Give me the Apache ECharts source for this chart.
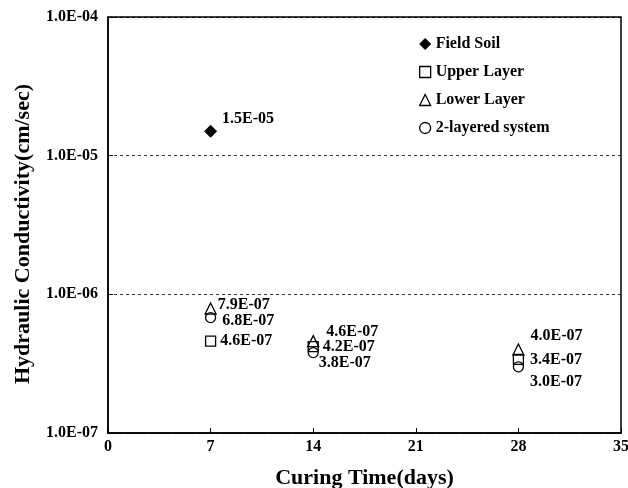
<!DOCTYPE html>
<html>
<head>
<meta charset="utf-8">
<script src="https://cdn.jsdelivr.net/npm/echarts@6/dist/echarts.min.js"></script>
<style>html,body{margin:0;padding:0;background:#fff;}#c{width:628px;height:488px;}</style>
</head>
<body>
<div id="c"></div>
<script>
var days = [7, 14, 28];
var fieldSoilDays = [7];
var fieldSoil = [1.5e-5];
var upperLayer = [4.6e-7, 4.2e-7, 3.4e-7];
var lowerLayer = [7.9e-7, 4.6e-7, 4.0e-7];
var twoLayered = [6.8e-7, 3.8e-7, 3.0e-7];
var xTicks = [0, 7, 14, 21, 28, 35];
var yTicks = [1e-7, 1e-6, 1e-5, 1e-4];

// label offsets (style only)
var offField = [[0, -12]];
var offUpper = [[-1, 0], [-1, 0], [1, 1]];
var offLower = [[-4, -4], [2, -9], [1, -14]];
var offTwo = [[1, 3], [-5, 10], [1, 15]];

var FONT = '"Liberation Serif", "Times New Roman", serif';

function fmt(v) {
  var s = v.toExponential(1).toUpperCase();
  return s.replace(/E([+-])(\d)$/, 'E$10$2');
}

function pts(xs, ys, offs) {
  return ys.map(function (y, i) {
    return {
      value: [xs[i], y],
      label: { offset: offs[i] }
    };
  });
}

function labelCfg() {
  return {
    show: true,
    position: 'right',
    distance: 5,
    fontFamily: FONT,
    fontWeight: 'bold',
    fontSize: 16,
    color: '#000',
    formatter: function (p) { return fmt(p.value[1]); }
  };
}

var chart = echarts.init(document.getElementById('c'));
chart.setOption({
  animation: false,
  backgroundColor: '#fff',
  grid: {
    left: 108, right: 7, top: 17, bottom: 55,
    outerBoundsMode: 'none', containLabel: false,
    show: true, borderColor: '#000', borderWidth: 1.5, backgroundColor: 'transparent'
  },
  legend: {
    orient: 'vertical',
    left: 414,
    top: 31,
    itemWidth: 11,
    itemHeight: 11,
    itemGap: 12,
    textStyle: { fontFamily: FONT, fontWeight: 'bold', fontSize: 16, color: '#000' },
    data: [
      { name: 'Field Soil', icon: 'diamond', itemStyle: { color: '#000', borderColor: '#000', borderWidth: 1 } },
      { name: 'Upper Layer', icon: 'rect', itemStyle: { color: '#fff', borderColor: '#000', borderWidth: 1.3 } },
      { name: 'Lower Layer', icon: 'triangle', itemStyle: { color: '#fff', borderColor: '#000', borderWidth: 1.3 } },
      { name: '2-layered system', icon: 'circle', itemStyle: { color: '#fff', borderColor: '#000', borderWidth: 1.3 } }
    ]
  },
  xAxis: {
    type: 'value',
    min: xTicks[0],
    max: xTicks[xTicks.length - 1],
    interval: 7,
    name: 'Curing Time(days)',
    nameLocation: 'middle',
    nameGap: 34,
    nameTextStyle: { fontFamily: FONT, fontWeight: 'bold', fontSize: 22, color: '#000' },
    axisLine: { lineStyle: { color: '#000', width: 1.5 } },
    axisTick: { show: true, inside: true, length: 5, lineStyle: { color: '#000', width: 1 } },
    axisLabel: { fontFamily: FONT, fontWeight: 'bold', fontSize: 16, color: '#000', margin: 6 },
    splitLine: { show: false }
  },
  yAxis: {
    type: 'log',
    logBase: 10,
    min: yTicks[0],
    max: yTicks[yTicks.length - 1],
    name: 'Hydraulic Conductivity(cm/sec)',
    nameLocation: 'middle',
    nameGap: 74,
    nameTextStyle: { fontFamily: FONT, fontWeight: 'bold', fontSize: 22, color: '#000', padding: [0, 18, 0, 0] },
    axisLine: { show: true, lineStyle: { color: '#000', width: 1.5 } },
    axisTick: { show: true, inside: true, length: 5, lineStyle: { color: '#000', width: 1 } },
    minorTick: { show: false },
    axisLabel: {
      fontFamily: FONT, fontWeight: 'bold', fontSize: 16, color: '#000', margin: 10,
      formatter: function (v) { return fmt(v); }
    },
    splitLine: { show: true, lineStyle: { color: '#000', type: [3, 3], width: 0.8 } }
  },
  series: [
    {
      name: 'Field Soil', type: 'scatter', symbol: 'diamond', symbolSize: 12,
      itemStyle: { color: '#000', borderColor: '#000', borderWidth: 1, opacity: 1 },
      label: labelCfg(),
      data: pts(fieldSoilDays, fieldSoil, offField)
    },
    {
      name: 'Upper Layer', type: 'scatter', symbol: 'rect', symbolSize: 10,
      itemStyle: { color: '#fff', borderColor: '#000', borderWidth: 1.3, opacity: 1 },
      label: labelCfg(),
      data: pts(days, upperLayer, offUpper)
    },
    {
      name: 'Lower Layer', type: 'scatter', symbol: 'triangle', symbolSize: 11,
      itemStyle: { color: 'transparent', borderColor: '#000', borderWidth: 1.3, opacity: 1 },
      label: labelCfg(),
      data: pts(days, lowerLayer, offLower)
    },
    {
      name: '2-layered system', type: 'scatter', symbol: 'circle', symbolSize: 10,
      itemStyle: { color: 'transparent', borderColor: '#000', borderWidth: 1.3, opacity: 1 },
      label: labelCfg(),
      data: pts(days, twoLayered, offTwo)
    }
  ]
});
</script>
</body>
</html>
